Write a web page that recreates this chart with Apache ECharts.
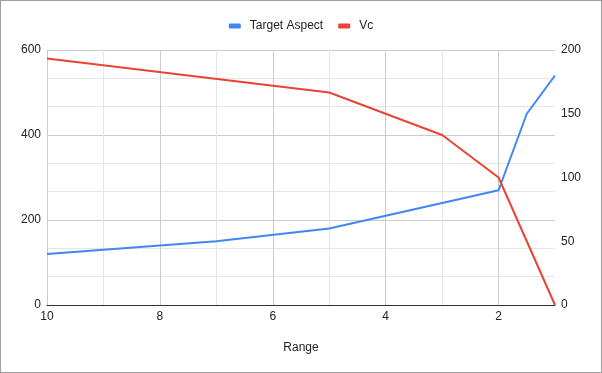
<!DOCTYPE html>
<html>
<head>
<meta charset="utf-8">
<script src="https://cdn.jsdelivr.net/npm/echarts@6/dist/echarts.min.js"></script>
<style>
html,body{margin:0;padding:0;background:#fff;}
#c{width:600px;height:371px;border:1px solid #9e9e9e;}
</style>
</head>
<body>
<div id="c"></div>
<script>
// Range (x), Target Aspect (right axis), Vc (left axis)
const aspectRange = [10, 7, 5, 4, 3, 2, 1.5, 1];
const targetAspect = [40, 50, 60, 70, 80, 90, 150, 180];
const vcRange = [10, 5, 3, 2, 1];
const vc = [580, 500, 400, 300, 0];
const leftTicks = [0, 200, 400, 600];
const rightTicks = [0, 50, 100, 150, 200];

const font = '"Liberation Sans", Arial, sans-serif';
const chart = echarts.init(document.getElementById('c'), null, {renderer: 'canvas'});
chart.setOption({
  animation: false,
  textStyle: {fontFamily: font},
  legend: {
    top: 14, left: 'center',
    itemWidth: 12, itemHeight: 5, itemGap: 15,
    icon: 'roundRect',
    textStyle: {fontFamily: font, fontSize: 12, color: '#222', padding: [0, 0, 0, 4]},
    data: ['Target Aspect', 'Vc']
  },
  grid: {left: 46, right: 46, top: 49, bottom: 67},
  xAxis: {
    type: 'value', inverse: true, min: 1, max: 10, interval: 1,
    name: 'Range', nameLocation: 'middle', nameGap: 37,
    nameTextStyle: {fontFamily: font, fontSize: 12, color: '#222'},
    axisLine: {show: true, lineStyle: {color: '#333', width: 1}},
    axisTick: {show: false},
    axisLabel: {fontFamily: font, fontSize: 12, color: '#222', margin: 6,
      formatter: v => (v % 2 === 0 ? String(v) : '')},
    splitLine: {show: true, showMinLine: false, lineStyle: {color: ['#cccccc', '#e6e6e6'], width: 1}}
  },
  yAxis: [
    {
      type: 'value', min: 0, max: 600, interval: 200, position: 'left',
      axisLine: {show: true, lineStyle: {color: '#cccccc'}},
      axisTick: {show: false},
      axisLabel: {fontFamily: font, fontSize: 12, color: '#222', margin: 6,
        formatter: v => (leftTicks.includes(v) ? String(v) : '')},
      splitLine: {show: true, lineStyle: {color: '#cccccc'}},
      minorTick: {show: false, splitNumber: 3},
      minorSplitLine: {show: true, lineStyle: {color: '#e6e6e6'}}
    },
    {
      type: 'value', min: 0, max: 200, interval: 50, position: 'right',
      axisLine: {show: false}, axisTick: {show: false},
      axisLabel: {fontFamily: font, fontSize: 12, color: '#222', margin: 6,
        formatter: v => (rightTicks.includes(v) ? String(v) : '')},
      splitLine: {show: false}
    }
  ],
  series: [
    {
      name: 'Target Aspect', type: 'line', yAxisIndex: 1,
      data: aspectRange.map((r, i) => [r, targetAspect[i]]),
      showSymbol: false, symbol: 'none',
      lineStyle: {color: '#4285F4', width: 2},
      itemStyle: {color: '#4285F4'}
    },
    {
      name: 'Vc', type: 'line', yAxisIndex: 0,
      data: vcRange.map((r, i) => [r, vc[i]]),
      showSymbol: false, symbol: 'none',
      lineStyle: {color: '#EA4335', width: 2},
      itemStyle: {color: '#EA4335'}
    }
  ]
});
</script>
</body>
</html>
